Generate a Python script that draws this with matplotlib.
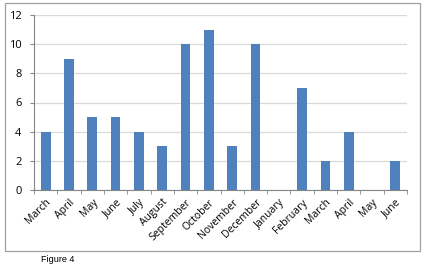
import matplotlib
matplotlib.use("Agg")
import matplotlib.pyplot as plt
from matplotlib.patches import Rectangle

months = ["March", "April", "May", "June", "July", "August", "September",
          "October", "November", "December", "January", "February",
          "March", "April", "May", "June"]
values = [4, 9, 5, 5, 4, 3, 10, 11, 3, 10, 0, 7, 2, 4, 0, 2]
yticks = [0, 2, 4, 6, 8, 10, 12]

plt.rcParams['font.family'] = ['Open Sans', 'DejaVu Sans']

fig = plt.figure(figsize=(4.26, 2.67), dpi=100)
W, H = 426, 267
ax = fig.add_axes([34/W, 1-190/H, (407-34)/W, (190-15)/H])

x = list(range(len(months)))
ax.bar(x, values, width=0.42, color="#4F81BD", zorder=3)
ax.set_xlim(-0.5, len(months)-0.5)
ax.set_ylim(0, 12)
ax.set_yticks(yticks)
ax.set_yticklabels([str(v) for v in yticks], fontsize=8)
ax.set_xticks(x)
ax.set_xticklabels(months, rotation=45, ha="right", rotation_mode="anchor", fontsize=7.5)
ax.tick_params(axis="x", length=0, pad=5)
ax.set_xticks([i + 0.5 for i in range(-1, len(months))], minor=True)
ax.tick_params(axis="x", which="minor", length=3, direction="out", color="#868686")
ax.tick_params(axis="y", length=3, color="#868686", pad=6)
ax.grid(axis="y", color="#D9D9D9", linewidth=0.9, zorder=0)
for s in ["top", "right"]:
    ax.spines[s].set_visible(False)
ax.spines["left"].set_color("#868686")
ax.spines["bottom"].set_color("#868686")

fig.patches.append(Rectangle((5/W, 1-251/H), (420-5)/W, (251-3)/H,
                             transform=fig.transFigure, fill=False,
                             edgecolor="#A0A0A0", linewidth=0.9))
fig.text(41/W, 1-259/H, "Figure 4", fontsize=6.5, va="center", ha="left",
         family=["Liberation Sans", "DejaVu Sans"])

fig.savefig("out.png", dpi=100)
